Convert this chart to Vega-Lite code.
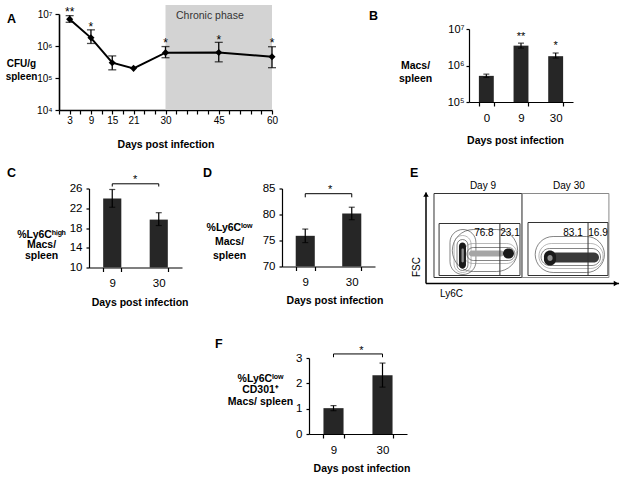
{
"$schema":"https://vega.github.io/schema/vega-lite/v6.json",
"background":"white",
"padding":{"left":4,"top":4,"right":2,"bottom":2},
"config":{"font":"Liberation Sans","view":{"stroke":null},
 "axis":{"grid":false,"domainColor":"#000","tickColor":"#000","labelColor":"#000","titleColor":"#000","labelFontSize":11,"titleFontSize":10.5,"titleFontWeight":"bold","domainWidth":1.2,"tickWidth":1.2,"labelFlush":false,"labelOverlap":false}},
"datasets":{
 "a":[{"day":3,"cfu":6900000,"lo":5500000,"hi":8900000},{"day":9,"cfu":1800000,"lo":1200000,"hi":3200000},{"day":15,"cfu":300000,"lo":180000,"hi":490000},{"day":21,"cfu":200000},{"day":30,"cfu":620000,"lo":430000,"hi":960000},{"day":45,"cfu":630000,"lo":320000,"hi":1300000},{"day":60,"cfu":460000,"lo":210000,"hi":950000}],
 "aSig":[{"day":3,"sig":"**","y":14000000},{"day":9,"sig":"*","y":4800000},{"day":30,"sig":"*","y":1470000},{"day":45,"sig":"*","y":1800000},{"day":60,"sig":"*","y":1500000}],
 "aPhase":[{"s":30,"e":60,"lo":10000,"hi":19000000,"label":"Chronic phase","lx":42.5,"ly":8700000}],
 "b":[{"day":"0","v":520000,"lo":470000,"hi":580000},{"day":"9","v":3500000,"lo":3000000,"hi":4100000,"sig":"**","sy":7200000},{"day":"30","v":1800000,"lo":1600000,"hi":2200000,"sig":"*","sy":4100000}],
 "c":[{"day":"9","v":24.0,"lo":22.2,"hi":25.8},{"day":"30","v":19.7,"lo":18.5,"hi":21.1}],
 "cBr":[{"day":"9","top":26.95,"bot":26.4},{"day":"30","top":26.95,"bot":26.4}],
 "cBrH":[{"from":"9","to":"30","y":26.95,"sy":28.4,"sig":"*"}],
 "d":[{"day":"9","v":75.9,"lo":74.6,"hi":77.2},{"day":"30","v":80.2,"lo":79.0,"hi":81.4}],
 "dBr":[{"day":"9","top":84.0,"bot":83.3},{"day":"30","top":84.0,"bot":83.3}],
 "dBrH":[{"from":"9","to":"30","y":84.0,"sy":85.2,"sig":"*"}],
 "f":[{"day":"9","v":1.02,"lo":0.92,"hi":1.12},{"day":"30","v":2.32,"lo":1.85,"hi":2.8}],
 "fBr":[{"day":"9","top":3.16,"bot":3.03},{"day":"30","top":3.16,"bot":3.03}],
 "fBrH":[{"from":"9","to":"30","y":3.16,"sy":3.39,"sig":"*"}],
 "eGate":[{"x":4.1,"x2":49.2,"y":6,"y2":90,"k":"d9"},{"x":49.2,"x2":93.8,"y":6,"y2":90,"k":"d30"},{"x":6.7,"x2":48.2,"y":8,"y2":60,"k":"d9"},{"x":52.3,"x2":93.3,"y":8,"y2":61,"k":"d9"}],
 "eSplit":[{"x":37.9,"y":8,"y2":60},{"x":83.1,"y":8,"y2":61}],
 "eAxis":[{"x":0,"y":0,"x2":0,"y2":91},{"x":0,"y":0,"x2":99,"y2":0}],
 "eArrow":[{"x":0,"y":89,"d":"up"},{"x":97.5,"y":0,"d":"right"}],
 "eText":[{"x":29.2,"y":98,"t":"Day 9"},{"x":73.3,"y":98,"t":"Day 30"},{"x":29.7,"y":51,"t":"76.8"},{"x":43.1,"y":51,"t":"23.1"},{"x":75.4,"y":51,"t":"83.1"},{"x":88.2,"y":51,"t":"16.9"}],
 "eRing":[
  {"x":13.5,"x2":47,"y":12,"y2":54,"l":"o"},
  {"x":12.3,"x2":25.6,"y":9,"y2":54,"l":"o"},
  {"x":14.4,"x2":23.1,"y":11,"y2":48,"l":"m"},
  {"x":15.9,"x2":21.5,"y":13,"y2":44,"l":"i"},
  {"x":19,"x2":46.5,"y":20,"y2":40,"l":"m"},
  {"x":21,"x2":45.6,"y":23,"y2":36,"l":"i"},
  {"x":56,"x2":91.5,"y":11,"y2":47,"l":"o"},
  {"x":57.9,"x2":90.8,"y":15,"y2":40,"l":"m"},
  {"x":59,"x2":89.5,"y":18,"y2":35,"l":"i"}],
 "eCore":[
  {"x":16.9,"x2":20.5,"y":15,"y2":41,"l":"core"},
  {"x":18.2,"x2":19.4,"y":21,"y2":35,"l":"hole"},
  {"x":22,"x2":40,"y":27,"y2":33,"l":"smear"},
  {"x":39.5,"x2":45.1,"y":25,"y2":35,"l":"core"},
  {"x":64,"x2":88.7,"y":21,"y2":31,"l":"bar"},
  {"x":60.5,"x2":66.7,"y":18,"y2":33,"l":"core"},
  {"x":62.3,"x2":64.9,"y":22.5,"y2":28.5,"l":"hole"}]
},
"spacing":16.5,
"vconcat":[
 {"spacing":0,"hconcat":[
  {"width":1,"height":1,"data":{"values":[]},"mark":"point"},
  {"spacing":0,"vconcat":[
   {"width":1,"height":1,"data":{"values":[]},"mark":"point"},
   {"width":213,"height":96,
    "layer":[
     {"data":{"name":"aPhase"},"mark":{"type":"rect","color":"#d3d3d3"},
      "encoding":{
       "x":{"field":"s","type":"quantitative","scale":{"domain":[0,60],"nice":false,"zero":false},
        "axis":{"values":[0,3,6,9,12,15,18,21,24,27,30,33,36,39,42,45,48,51,54,57,60],"tickCount":40,"labelExpr":"indexof([3,9,15,21,30,45,60], datum.value) >= 0 ? datum.label : ''","labelOverlap":false,"tickSize":4,"labelPadding":1,"labelFontSize":10,"domainWidth":1.6,"title":"Days post infection","titleY":34,"titleBaseline":"middle"}},
       "x2":{"field":"e"},
       "y":{"field":"lo","type":"quantitative","scale":{"type":"log","domain":[10000,10000000],"nice":false},
        "axis":{"values":[10000,100000,1000000,10000000],"tickCount":10,"labelExpr":"datum.value > 5000000 ? '10⁷' : datum.value > 500000 ? '10⁶' : datum.value > 50000 ? '10⁵' : '10⁴'","labelOverlap":false,"tickSize":4,"labelPadding":3,"labelFontSize":10,"domainWidth":1.6,"title":["CFU/g","spleen"],"titleFontSize":10,"titleAngle":0,"titleAlign":"center","titleBaseline":"middle","titleX":-38,"titleY":49,"titleLineHeight":13}},
       "y2":{"field":"hi"}}},
     {"data":{"name":"aPhase"},"mark":{"type":"text","fontSize":10.5,"color":"#333"},
      "encoding":{"x":{"field":"lx","type":"quantitative"},"y":{"field":"ly","type":"quantitative"},"text":{"field":"label"}}},
     {"data":{"name":"a"},"mark":{"type":"line","color":"#000","strokeWidth":2},
      "encoding":{"x":{"field":"day","type":"quantitative"},"y":{"field":"cfu","type":"quantitative"}}},
     {"data":{"name":"a"},"transform":[{"filter":"isValid(datum.lo)"}],"mark":{"type":"rule","color":"#000","strokeWidth":1.3},
      "encoding":{"x":{"field":"day","type":"quantitative"},"y":{"field":"lo","type":"quantitative"},"y2":{"field":"hi"}}},
     {"data":{"name":"a"},"transform":[{"filter":"isValid(datum.lo)"}],"mark":{"type":"tick","orient":"horizontal","color":"#000","thickness":1.3,"size":8},
      "encoding":{"x":{"field":"day","type":"quantitative"},"y":{"field":"lo","type":"quantitative"}}},
     {"data":{"name":"a"},"transform":[{"filter":"isValid(datum.hi)"}],"mark":{"type":"tick","orient":"horizontal","color":"#000","thickness":1.3,"size":8},
      "encoding":{"x":{"field":"day","type":"quantitative"},"y":{"field":"hi","type":"quantitative"}}},
     {"data":{"name":"a"},"mark":{"type":"point","shape":"diamond","filled":true,"size":50,"color":"#000","opacity":1},
      "encoding":{"x":{"field":"day","type":"quantitative"},"y":{"field":"cfu","type":"quantitative"}}},
     {"data":{"name":"aSig"},"mark":{"type":"text","fontSize":12,"baseline":"alphabetic","dy":6.5,"fill":"#000"},
      "encoding":{"x":{"field":"day","type":"quantitative"},"y":{"field":"y","type":"quantitative"},"text":{"field":"sig"}}},
     {"data":{"values":[{"t":"A"}]},"mark":{"type":"text","align":"left","baseline":"middle","fontSize":12.5,"fontWeight":"bold","fill":"#000","dx":-52,"dy":5},
      "encoding":{"x":{"datum":0,"type":"quantitative"},"y":{"datum":10000000,"type":"quantitative"},"text":{"field":"t"}}}
    ]}
  ]},
  {"width":90.5,"height":1,"data":{"values":[]},"mark":"point"},
  {"spacing":0,"vconcat":[
   {"width":1,"height":5.75,"data":{"values":[]},"mark":"point"},
   {"width":104,"height":73,
    "layer":[
     {"data":{"name":"b"},"mark":{"type":"bar","color":"#262626"},
      "encoding":{
       "x":{"field":"day","type":"nominal","scale":{"domain":["0","9","30"],"paddingInner":0.57,"paddingOuter":0.285},
        "axis":{"labelAngle":0,"tickBand":"extent","tickSize":4,"labelPadding":6,"labelFontSize":11.5,"labelOverlap":false,"title":"Days post infection","titleX":46,"titleY":38,"titleBaseline":"middle"}},
       "y":{"field":"v","type":"quantitative","scale":{"type":"log","domain":[100000,10000000],"nice":false},
        "axis":{"values":[100000,1000000,10000000],"tickCount":10,"labelExpr":"datum.value > 5000000 ? '10⁷' : datum.value > 500000 ? '10⁶' : '10⁵'","labelOverlap":false,"tickSize":3,"labelPadding":2,"labelFontSize":11,"title":["Macs/","spleen"],"titleAngle":0,"titleAlign":"center","titleBaseline":"middle","titleX":-54,"titleY":36.5,"titleLineHeight":13}},
       "y2":{"datum":100000}}},
     {"data":{"name":"b"},"mark":{"type":"rule","color":"#000","strokeWidth":1.2},
      "encoding":{"x":{"field":"day","type":"nominal"},"y":{"field":"lo","type":"quantitative"},"y2":{"field":"hi"}}},
     {"data":{"name":"b"},"mark":{"type":"tick","orient":"horizontal","color":"#000","thickness":1.2,"size":6},
      "encoding":{"x":{"field":"day","type":"nominal"},"y":{"field":"lo","type":"quantitative"}}},
     {"data":{"name":"b"},"mark":{"type":"tick","orient":"horizontal","color":"#000","thickness":1.2,"size":6},
      "encoding":{"x":{"field":"day","type":"nominal"},"y":{"field":"hi","type":"quantitative"}}},
     {"data":{"name":"b"},"transform":[{"filter":"isValid(datum.sig)"}],"mark":{"type":"text","fontSize":11,"baseline":"alphabetic","dy":6,"fill":"#000"},
      "encoding":{"x":{"field":"day","type":"nominal"},"y":{"field":"sy","type":"quantitative"},"text":{"field":"sig"}}},
     {"data":{"values":[{"t":"B"}]},"mark":{"type":"text","align":"left","baseline":"middle","fontSize":12.5,"fontWeight":"bold","fill":"#000","dx":-117.3,"dy":-13},
      "encoding":{"x":{"datum":"0","type":"nominal"},"y":{"datum":10000000,"type":"quantitative"},"text":{"field":"t"}}}
    ]}
  ]}
 ]},
 {"spacing":0,"hconcat":[
  {"width":3,"height":1,"data":{"values":[]},"mark":"point"},
  {"width":93,"height":79,
   "layer":[
    {"data":{"name":"c"},"mark":{"type":"bar","color":"#262626"},
     "encoding":{
      "x":{"field":"day","type":"nominal","scale":{"domain":["9","30"],"paddingInner":0.61,"paddingOuter":0.305},
       "axis":{"labelAngle":0,"tickBand":"extent","tickSize":4,"labelPadding":6,"labelFontSize":11.5,"labelOverlap":false,"title":"Days post infection","titleX":50.6,"titleY":35,"titleBaseline":"middle"}},
      "y":{"field":"v","type":"quantitative","scale":{"domain":[10,26],"nice":false,"zero":false},
       "axis":{"values":[10,14,18,22,26],"tickCount":10,"format":"d","labelOverlap":false,"tickSize":3,"labelPadding":4,"labelFontSize":11.5,"title":["%Ly6Cʰⁱᵍʰ","Macs/","spleen"],"titleAngle":0,"titleAlign":"center","titleBaseline":"middle","titleX":-48,"titleY":45.5,"titleLineHeight":10.5}},
      "y2":{"datum":10}}},
    {"data":{"name":"c"},"mark":{"type":"rule","color":"#000","strokeWidth":1.2},
     "encoding":{"x":{"field":"day","type":"nominal"},"y":{"field":"lo","type":"quantitative"},"y2":{"field":"hi"}}},
    {"data":{"name":"c"},"mark":{"type":"tick","orient":"horizontal","color":"#000","thickness":1.2,"size":6},
     "encoding":{"x":{"field":"day","type":"nominal"},"y":{"field":"lo","type":"quantitative"}}},
    {"data":{"name":"c"},"mark":{"type":"tick","orient":"horizontal","color":"#000","thickness":1.2,"size":6},
     "encoding":{"x":{"field":"day","type":"nominal"},"y":{"field":"hi","type":"quantitative"}}},
    {"data":{"name":"cBr"},"mark":{"type":"rule","color":"#000","strokeWidth":1},
     "encoding":{"x":{"field":"day","type":"nominal"},"y":{"field":"top","type":"quantitative"},"y2":{"field":"bot"}}},
    {"data":{"name":"cBrH"},"mark":{"type":"rule","color":"#000","strokeWidth":1},
     "encoding":{"x":{"field":"from","type":"nominal"},"x2":{"field":"to"},"y":{"field":"y","type":"quantitative"}}},
    {"data":{"name":"cBrH"},"mark":{"type":"text","fontSize":11,"baseline":"alphabetic","dy":6,"dx":23,"fill":"#000"},
     "encoding":{"x":{"field":"from","type":"nominal"},"y":{"field":"sy","type":"quantitative"},"text":{"field":"sig"}}},
    {"data":{"values":[{"t":"C"}]},"mark":{"type":"text","align":"left","baseline":"middle","fontSize":12.5,"fontWeight":"bold","fill":"#000","dx":-105.25,"dy":-16},
     "encoding":{"x":{"datum":"9","type":"nominal"},"y":{"datum":26,"type":"quantitative"},"text":{"field":"t"}}}
   ]},
  {"width":14,"height":1,"data":{"values":[]},"mark":"point"},
  {"width":93,"height":78,
   "layer":[
    {"data":{"name":"d"},"mark":{"type":"bar","color":"#262626"},
     "encoding":{
      "x":{"field":"day","type":"nominal","scale":{"domain":["9","30"],"paddingInner":0.59,"paddingOuter":0.295},
       "axis":{"labelAngle":0,"tickBand":"extent","tickSize":4,"labelPadding":6,"labelFontSize":11.5,"labelOverlap":false,"title":"Days post infection","titleX":52.5,"titleY":34,"titleBaseline":"middle"}},
      "y":{"field":"v","type":"quantitative","scale":{"domain":[70,85],"nice":false,"zero":false},
       "axis":{"values":[70,75,80,85],"tickCount":10,"format":"d","labelOverlap":false,"tickSize":3,"labelPadding":4,"labelFontSize":11.5,"title":["%Ly6Cˡᵒʷ","Macs/","spleen"],"titleAngle":0,"titleAlign":"center","titleBaseline":"middle","titleX":-53,"titleY":39,"titleLineHeight":14}},
      "y2":{"datum":70}}},
    {"data":{"name":"d"},"mark":{"type":"rule","color":"#000","strokeWidth":1.2},
     "encoding":{"x":{"field":"day","type":"nominal"},"y":{"field":"lo","type":"quantitative"},"y2":{"field":"hi"}}},
    {"data":{"name":"d"},"mark":{"type":"tick","orient":"horizontal","color":"#000","thickness":1.2,"size":6},
     "encoding":{"x":{"field":"day","type":"nominal"},"y":{"field":"lo","type":"quantitative"}}},
    {"data":{"name":"d"},"mark":{"type":"tick","orient":"horizontal","color":"#000","thickness":1.2,"size":6},
     "encoding":{"x":{"field":"day","type":"nominal"},"y":{"field":"hi","type":"quantitative"}}},
    {"data":{"name":"dBr"},"mark":{"type":"rule","color":"#000","strokeWidth":1},
     "encoding":{"x":{"field":"day","type":"nominal"},"y":{"field":"top","type":"quantitative"},"y2":{"field":"bot"}}},
    {"data":{"name":"dBrH"},"mark":{"type":"rule","color":"#000","strokeWidth":1},
     "encoding":{"x":{"field":"from","type":"nominal"},"x2":{"field":"to"},"y":{"field":"y","type":"quantitative"}}},
    {"data":{"name":"dBrH"},"mark":{"type":"text","fontSize":11,"baseline":"alphabetic","dy":6,"dx":25,"fill":"#000"},
     "encoding":{"x":{"field":"from","type":"nominal"},"y":{"field":"sy","type":"quantitative"},"text":{"field":"sig"}}},
    {"data":{"values":[{"t":"D"}]},"mark":{"type":"text","align":"left","baseline":"middle","fontSize":12.5,"fontWeight":"bold","fill":"#000","dx":-102.25,"dy":-16},
     "encoding":{"x":{"datum":"9","type":"nominal"},"y":{"datum":85,"type":"quantitative"},"text":{"field":"t"}}}
   ]},
  {"width":27,"height":1,"data":{"values":[]},"mark":"point"},
  {"width":195,"height":95,
   "layer":[
    {"data":{"name":"eGate"},"mark":{"type":"rect","filled":false,"strokeWidth":1},
     "encoding":{
      "x":{"field":"x","type":"quantitative","scale":{"domain":[0,100],"nice":false,"zero":false},
       "axis":{"domain":false,"ticks":false,"labels":false,"title":"Ly6C","titleFontWeight":"normal","titleFontSize":10,"titleX":25,"titleY":10,"titleBaseline":"middle","titleAlign":"center"}},
      "x2":{"field":"x2"},
      "y":{"field":"y","type":"quantitative","scale":{"domain":[0,95],"nice":false,"zero":false},
       "axis":{"domain":false,"ticks":false,"labels":false,"title":"FSC","titleFontWeight":"normal","titleFontSize":10,"titleAngle":-90,"titleX":-10,"titleY":78,"titleBaseline":"middle","titleAlign":"center"}},
      "y2":{"field":"y2"},
      "stroke":{"field":"k","type":"nominal","scale":{"domain":["d9","d30"],"range":["#333333","#8a8a8a"]},"legend":null}}},
    {"data":{"name":"eRing"},"mark":{"type":"rect","filled":false,"strokeWidth":0.6,"cornerRadius":40},
     "encoding":{"x":{"field":"x","type":"quantitative"},"x2":{"field":"x2"},"y":{"field":"y","type":"quantitative"},"y2":{"field":"y2"},
      "stroke":{"field":"l","type":"nominal","scale":{"domain":["o","m","i"],"range":["#c8c8c8","#a0a0a0","#6a6a6a"]},"legend":null},
      "strokeDash":{"field":"l","type":"nominal","scale":{"domain":["o","m","i"],"range":[[1.5,1.5],[1,0],[1,0]]},"legend":null}}},
    {"data":{"name":"eCore"},"mark":{"type":"rect","cornerRadius":40},
     "encoding":{"x":{"field":"x","type":"quantitative"},"x2":{"field":"x2"},"y":{"field":"y","type":"quantitative"},"y2":{"field":"y2"},
      "fill":{"field":"l","type":"nominal","scale":{"domain":["core","hole","smear","bar"],"range":["#1a1a1a","#8f8f8f","#a5a5a5","#3a3a3a"]},"legend":null}}},
    {"data":{"name":"eSplit"},"mark":{"type":"rule","color":"#333","strokeWidth":1},
     "encoding":{"x":{"field":"x","type":"quantitative"},"y":{"field":"y","type":"quantitative"},"y2":{"field":"y2"}}},
    {"data":{"name":"eAxis"},"mark":{"type":"rule","color":"#000","strokeWidth":1.5},
     "encoding":{"x":{"field":"x","type":"quantitative"},"x2":{"field":"x2"},"y":{"field":"y","type":"quantitative"},"y2":{"field":"y2"}}},
    {"data":{"name":"eArrow"},"mark":{"type":"point","filled":true,"size":30,"color":"#000","opacity":1},
     "encoding":{"x":{"field":"x","type":"quantitative"},"y":{"field":"y","type":"quantitative"},
      "shape":{"field":"d","type":"nominal","scale":{"domain":["up","right"],"range":["triangle-up","triangle-right"]},"legend":null}}},
    {"data":{"name":"eText"},"mark":{"type":"text","fontSize":10,"baseline":"middle","fill":"#000"},
     "encoding":{"x":{"field":"x","type":"quantitative"},"y":{"field":"y","type":"quantitative"},"text":{"field":"t"}}},
    {"data":{"values":[{"t":"E"}]},"mark":{"type":"text","align":"left","baseline":"middle","fontSize":12.5,"fontWeight":"bold","fill":"#000","dx":-16,"dy":-16},
     "encoding":{"x":{"datum":0,"type":"quantitative"},"y":{"datum":95,"type":"quantitative"},"text":{"field":"t"}}}
   ]}
 ]},
 {"spacing":0,"hconcat":[
  {"width":211,"height":1,"data":{"values":[]},"mark":"point"},
  {"spacing":0,"vconcat":[
   {"width":1,"height":13,"data":{"values":[]},"mark":"point"},
   {"width":98,"height":76,
    "layer":[
     {"data":{"name":"f"},"mark":{"type":"bar","color":"#262626"},
      "encoding":{
       "x":{"field":"day","type":"nominal","scale":{"domain":["9","30"],"paddingInner":0.59,"paddingOuter":0.295},
        "axis":{"labelAngle":0,"tickBand":"extent","tickSize":4,"labelPadding":6,"labelFontSize":11.5,"labelOverlap":false,"title":"Days post infection","titleX":52.5,"titleY":34,"titleBaseline":"middle"}},
       "y":{"field":"v","type":"quantitative","scale":{"domain":[0,3],"nice":false,"zero":false},
        "axis":{"values":[0,1,2,3],"tickCount":10,"format":"d","labelOverlap":false,"tickSize":3,"labelPadding":4,"labelFontSize":11.5,"title":["%Ly6Cˡᵒʷ","CD301⁺","Macs/ spleen"],"titleAngle":0,"titleAlign":"center","titleBaseline":"middle","titleX":-49,"titleY":20,"titleLineHeight":11.5}},
       "y2":{"datum":0}}},
     {"data":{"name":"f"},"mark":{"type":"rule","color":"#000","strokeWidth":1.2},
      "encoding":{"x":{"field":"day","type":"nominal"},"y":{"field":"lo","type":"quantitative"},"y2":{"field":"hi"}}},
     {"data":{"name":"f"},"mark":{"type":"tick","orient":"horizontal","color":"#000","thickness":1.2,"size":6},
      "encoding":{"x":{"field":"day","type":"nominal"},"y":{"field":"lo","type":"quantitative"}}},
     {"data":{"name":"f"},"mark":{"type":"tick","orient":"horizontal","color":"#000","thickness":1.2,"size":6},
      "encoding":{"x":{"field":"day","type":"nominal"},"y":{"field":"hi","type":"quantitative"}}},
     {"data":{"name":"fBr"},"mark":{"type":"rule","color":"#000","strokeWidth":1},
      "encoding":{"x":{"field":"day","type":"nominal"},"y":{"field":"top","type":"quantitative"},"y2":{"field":"bot"}}},
     {"data":{"name":"fBrH"},"mark":{"type":"rule","color":"#000","strokeWidth":1},
      "encoding":{"x":{"field":"from","type":"nominal"},"x2":{"field":"to"},"y":{"field":"y","type":"quantitative"}}},
     {"data":{"name":"fBrH"},"mark":{"type":"text","fontSize":11,"baseline":"alphabetic","dy":6,"dx":28,"fill":"#000"},
      "encoding":{"x":{"field":"from","type":"nominal"},"y":{"field":"sy","type":"quantitative"},"text":{"field":"sig"}}},
     {"data":{"values":[{"t":"F"}]},"mark":{"type":"text","align":"left","baseline":"middle","fontSize":12.5,"fontWeight":"bold","fill":"#000","dx":-118.5,"dy":-14},
      "encoding":{"x":{"datum":"9","type":"nominal"},"y":{"datum":3,"type":"quantitative"},"text":{"field":"t"}}}
    ]}
  ]}
 ]}
]
}
